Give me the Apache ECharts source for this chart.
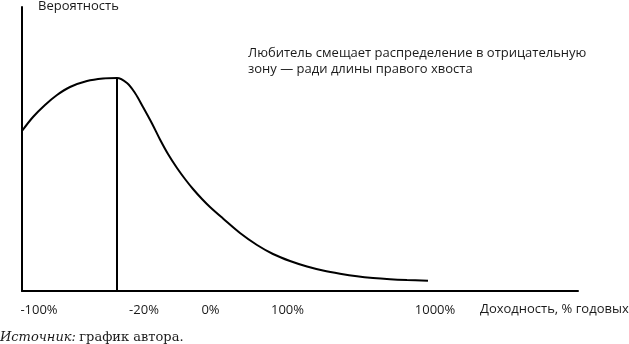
<!DOCTYPE html>
<html>
<head>
<meta charset="utf-8">
<title>Распределение доходности</title>
<script src="https://cdn.jsdelivr.net/npm/echarts@6/dist/echarts.min.js"></script>
<style>
  html, body { margin: 0; padding: 0; background: #fff; }
  #chart { width: 629px; height: 344px; }
</style>
</head>
<body>
<div id="chart"></div>
<script>
// Schematic return scale: positions along the horizontal axis (0..556)
const tickPositions = [17, 122, 188.5, 265.5, 413];
const tickLabels = ['-100%', '-20%', '0%', '100%', '1000%'];

// Probability density of the amateur's return distribution (schematic units)
const curveX = [0, 11, 23, 35, 48, 65, 81, 95, 105, 113, 121, 130, 138, 146, 155, 163, 171, 180, 188, 201, 218, 235, 251, 268, 285, 301, 318, 335, 351, 368, 385, 406];
const curveY = [160, 174, 186, 196, 204, 210, 212.5, 213, 208, 198, 184, 167.5, 151.5, 137, 123, 112, 102, 92, 84, 72.5, 58, 46, 37, 30, 24.5, 20.5, 17.3, 14.7, 13, 11.8, 11, 10.3];

const xMax = 556;
const yMax = 284;

const curve = curveX.map((x, i) => [x, curveY[i]]);
// Mode of the distribution: vertical line dropped from the peak
let peakIdx = 0;
curveY.forEach((v, i) => { if (v > curveY[peakIdx]) peakIdx = i; });
const modeLine = [[curveX[peakIdx], 0], [curveX[peakIdx], curveY[peakIdx]]];

const SANS = '"Open Sans", sans-serif';
const ink = '#1a1a1a';

const chart = echarts.init(document.getElementById('chart'), null, { renderer: 'canvas' });
chart.setOption({
  animation: false,
  backgroundColor: '#fff',
  grid: { left: 22, top: 7, right: 51, bottom: 53, containLabel: false, outerBoundsMode: 'none' },
  xAxis: {
    type: 'value',
    min: 0,
    max: xMax,
    name: 'Доходность, % годовых',
    nameLocation: 'end',
    nameGap: -98,
    nameTextStyle: { color: ink, fontFamily: SANS, fontSize: 13, verticalAlign: 'top', padding: [12, 0, 0, 0] },
    axisLine: { show: true, lineStyle: { color: '#000', width: 2 } },
    axisTick: { show: false },
    splitLine: { show: false },
    axisLabel: {
      customValues: tickPositions,
      formatter: (v) => {
        const i = tickPositions.indexOf(v);
        return i >= 0 ? tickLabels[i] : '';
      },
      color: ink,
      fontFamily: SANS,
      fontSize: 13,
      margin: 13
    }
  },
  yAxis: {
    type: 'value',
    min: 0,
    max: yMax,
    name: 'Вероятность',
    nameLocation: 'end',
    nameGap: 1,
    nameTextStyle: { color: ink, fontFamily: SANS, fontSize: 13, align: 'left', verticalAlign: 'middle', padding: [0, 0, 0, 16] },
    axisLine: { show: true, lineStyle: { color: '#000', width: 2 } },
    axisTick: { show: false },
    axisLabel: { show: false },
    splitLine: { show: false }
  },
  series: [
    {
      name: 'density',
      type: 'line',
      data: curve,
      smooth: 0.35,
      showSymbol: false,
      lineStyle: { color: '#000', width: 2 }
    },
    {
      name: 'mode',
      type: 'line',
      data: modeLine,
      showSymbol: false,
      lineStyle: { color: '#000', width: 2 }
    }
  ],
  graphic: [
    {
      type: 'text',
      left: 248,
      top: 45,
      style: {
        text: 'Любитель смещает распределение в отрицательную\nзону — ради длины правого хвоста',
        font: '13px ' + SANS,
        fill: ink,
        lineHeight: 16
      }
    },
    {
      type: 'text',
      left: 0,
      top: 331,
      style: {
        text: '{i|Источник:} {r|график автора.}',
        rich: {
          i: { fontFamily: '"DejaVu Serif", serif', fontStyle: 'italic', fontSize: 13, fill: ink },
          r: { fontFamily: '"DejaVu Serif", serif', fontSize: 13, fill: ink }
        }
      }
    }
  ]
});
</script>
</body>
</html>
